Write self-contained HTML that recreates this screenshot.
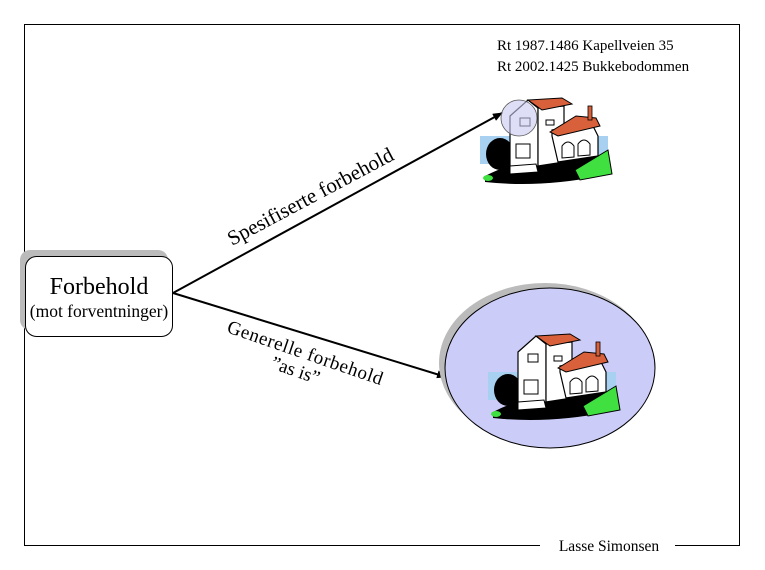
<!DOCTYPE html>
<html><head><meta charset="utf-8"><style>
html,body{margin:0;padding:0;background:#fff;}
svg{display:block;}
text{font-family:"Liberation Serif",serif;fill:#000;}
</style></head><body>
<svg width="765" height="570" viewBox="0 0 765 570" xmlns="http://www.w3.org/2000/svg">
<defs>
<marker id="ah" markerWidth="10" markerHeight="8" refX="9" refY="4" orient="auto" markerUnits="userSpaceOnUse">
<path d="M0,0 L10,4 L0,8 z" fill="#000"/>
</marker>
<g id="house">
<rect x="0" y="40" width="128" height="28" fill="#a8d0f0"/>
<path d="M5,80 Q40,62 90,58 L128,60 L120,80 Q60,92 5,86 z" fill="#000"/>
<path d="M95,74 L128,54 L132,78 L100,84 z" fill="#3fe040" stroke="#000" stroke-width="1"/>
<ellipse cx="8" cy="82" rx="5" ry="3" fill="#3fe040"/>
<ellipse cx="20" cy="58" rx="14" ry="16" fill="#000"/>
<path d="M30,20 L48,4 L58,12 L58,70 L30,72 z" fill="#fff" stroke="#000" stroke-width="1.2"/>
<path d="M58,12 L84,10 L84,66 L58,70 z" fill="#fff" stroke="#000" stroke-width="1.2"/>
<path d="M48,4 L62,14 L92,8 L82,2 z" fill="#d8603a" stroke="#000" stroke-width="1"/>
<path d="M72,34 L112,28 L118,40 L118,60 L78,66 L72,40 z" fill="#fff" stroke="#000" stroke-width="1.2"/>
<path d="M70,36 L96,20 L116,22 L120,30 L78,40 z" fill="#d8603a" stroke="#000" stroke-width="1"/>
<rect x="108" y="10" width="4" height="14" fill="#d8603a" stroke="#000" stroke-width="0.8"/>
<path d="M82,62 L82,50 Q88,42 94,50 L94,61 z" fill="#fff" stroke="#000"/>
<path d="M98,60 L98,48 Q104,40 110,48 L110,59 z" fill="#fff" stroke="#000"/>
<rect x="40" y="22" width="10" height="8" fill="#fff" stroke="#000"/>
<rect x="66" y="24" width="8" height="5" fill="#fff" stroke="#000"/>
<rect x="36" y="48" width="14" height="14" fill="#fff" stroke="#000"/>
<path d="M30,70 L56,68 L58,76 L30,78 z" fill="#fff" stroke="#000"/>
</g>
</defs>

<path d="M540,545.5 L24.5,545.5 L24.5,24.5 L739.5,24.5 L739.5,545.5 L675,545.5" fill="none" stroke="#000" stroke-width="1"/>
<text x="609" y="551" font-size="15.5" text-anchor="middle">Lasse Simonsen</text>

<text x="497" y="50" font-size="15">Rt 1987.1486 Kapellveien 35</text>
<text x="497" y="71" font-size="15">Rt 2002.1425 Bukkebodommen</text>

<rect x="20" y="250" width="148" height="80" rx="10" fill="#bbb"/>
<rect x="25.5" y="256.5" width="147" height="80" rx="11" fill="#fff" stroke="#000" stroke-width="1"/>
<text x="99" y="294" font-size="24" text-anchor="middle">Forbehold</text>
<text x="99" y="317" font-size="17.5" text-anchor="middle">(mot forventninger)</text>

<line x1="173" y1="293" x2="502" y2="113" stroke="#000" stroke-width="2" marker-end="url(#ah)"/>
<line x1="173" y1="293" x2="446" y2="377" stroke="#000" stroke-width="2" marker-end="url(#ah)"/>

<text font-size="21" transform="translate(232,246) rotate(-28)">Spesifiserte forbehold</text>
<text font-size="19" letter-spacing="0.6" transform="translate(226,332) rotate(19)">Generelle forbehold</text>
<text font-size="19" transform="translate(270,368) rotate(19)">”as is”</text>

<use href="#house" transform="translate(480,96)"/>
<circle cx="519" cy="118" r="18" fill="#c8c8f0" fill-opacity="0.6" stroke="#555" stroke-width="0.8"/>

<ellipse cx="545" cy="363" rx="106" ry="80" fill="#bbb"/>
<ellipse cx="550" cy="368" rx="105" ry="80" fill="#ccccf8" stroke="#000" stroke-width="1"/>
<use href="#house" transform="translate(488,332)"/>
</svg>
</body></html>
